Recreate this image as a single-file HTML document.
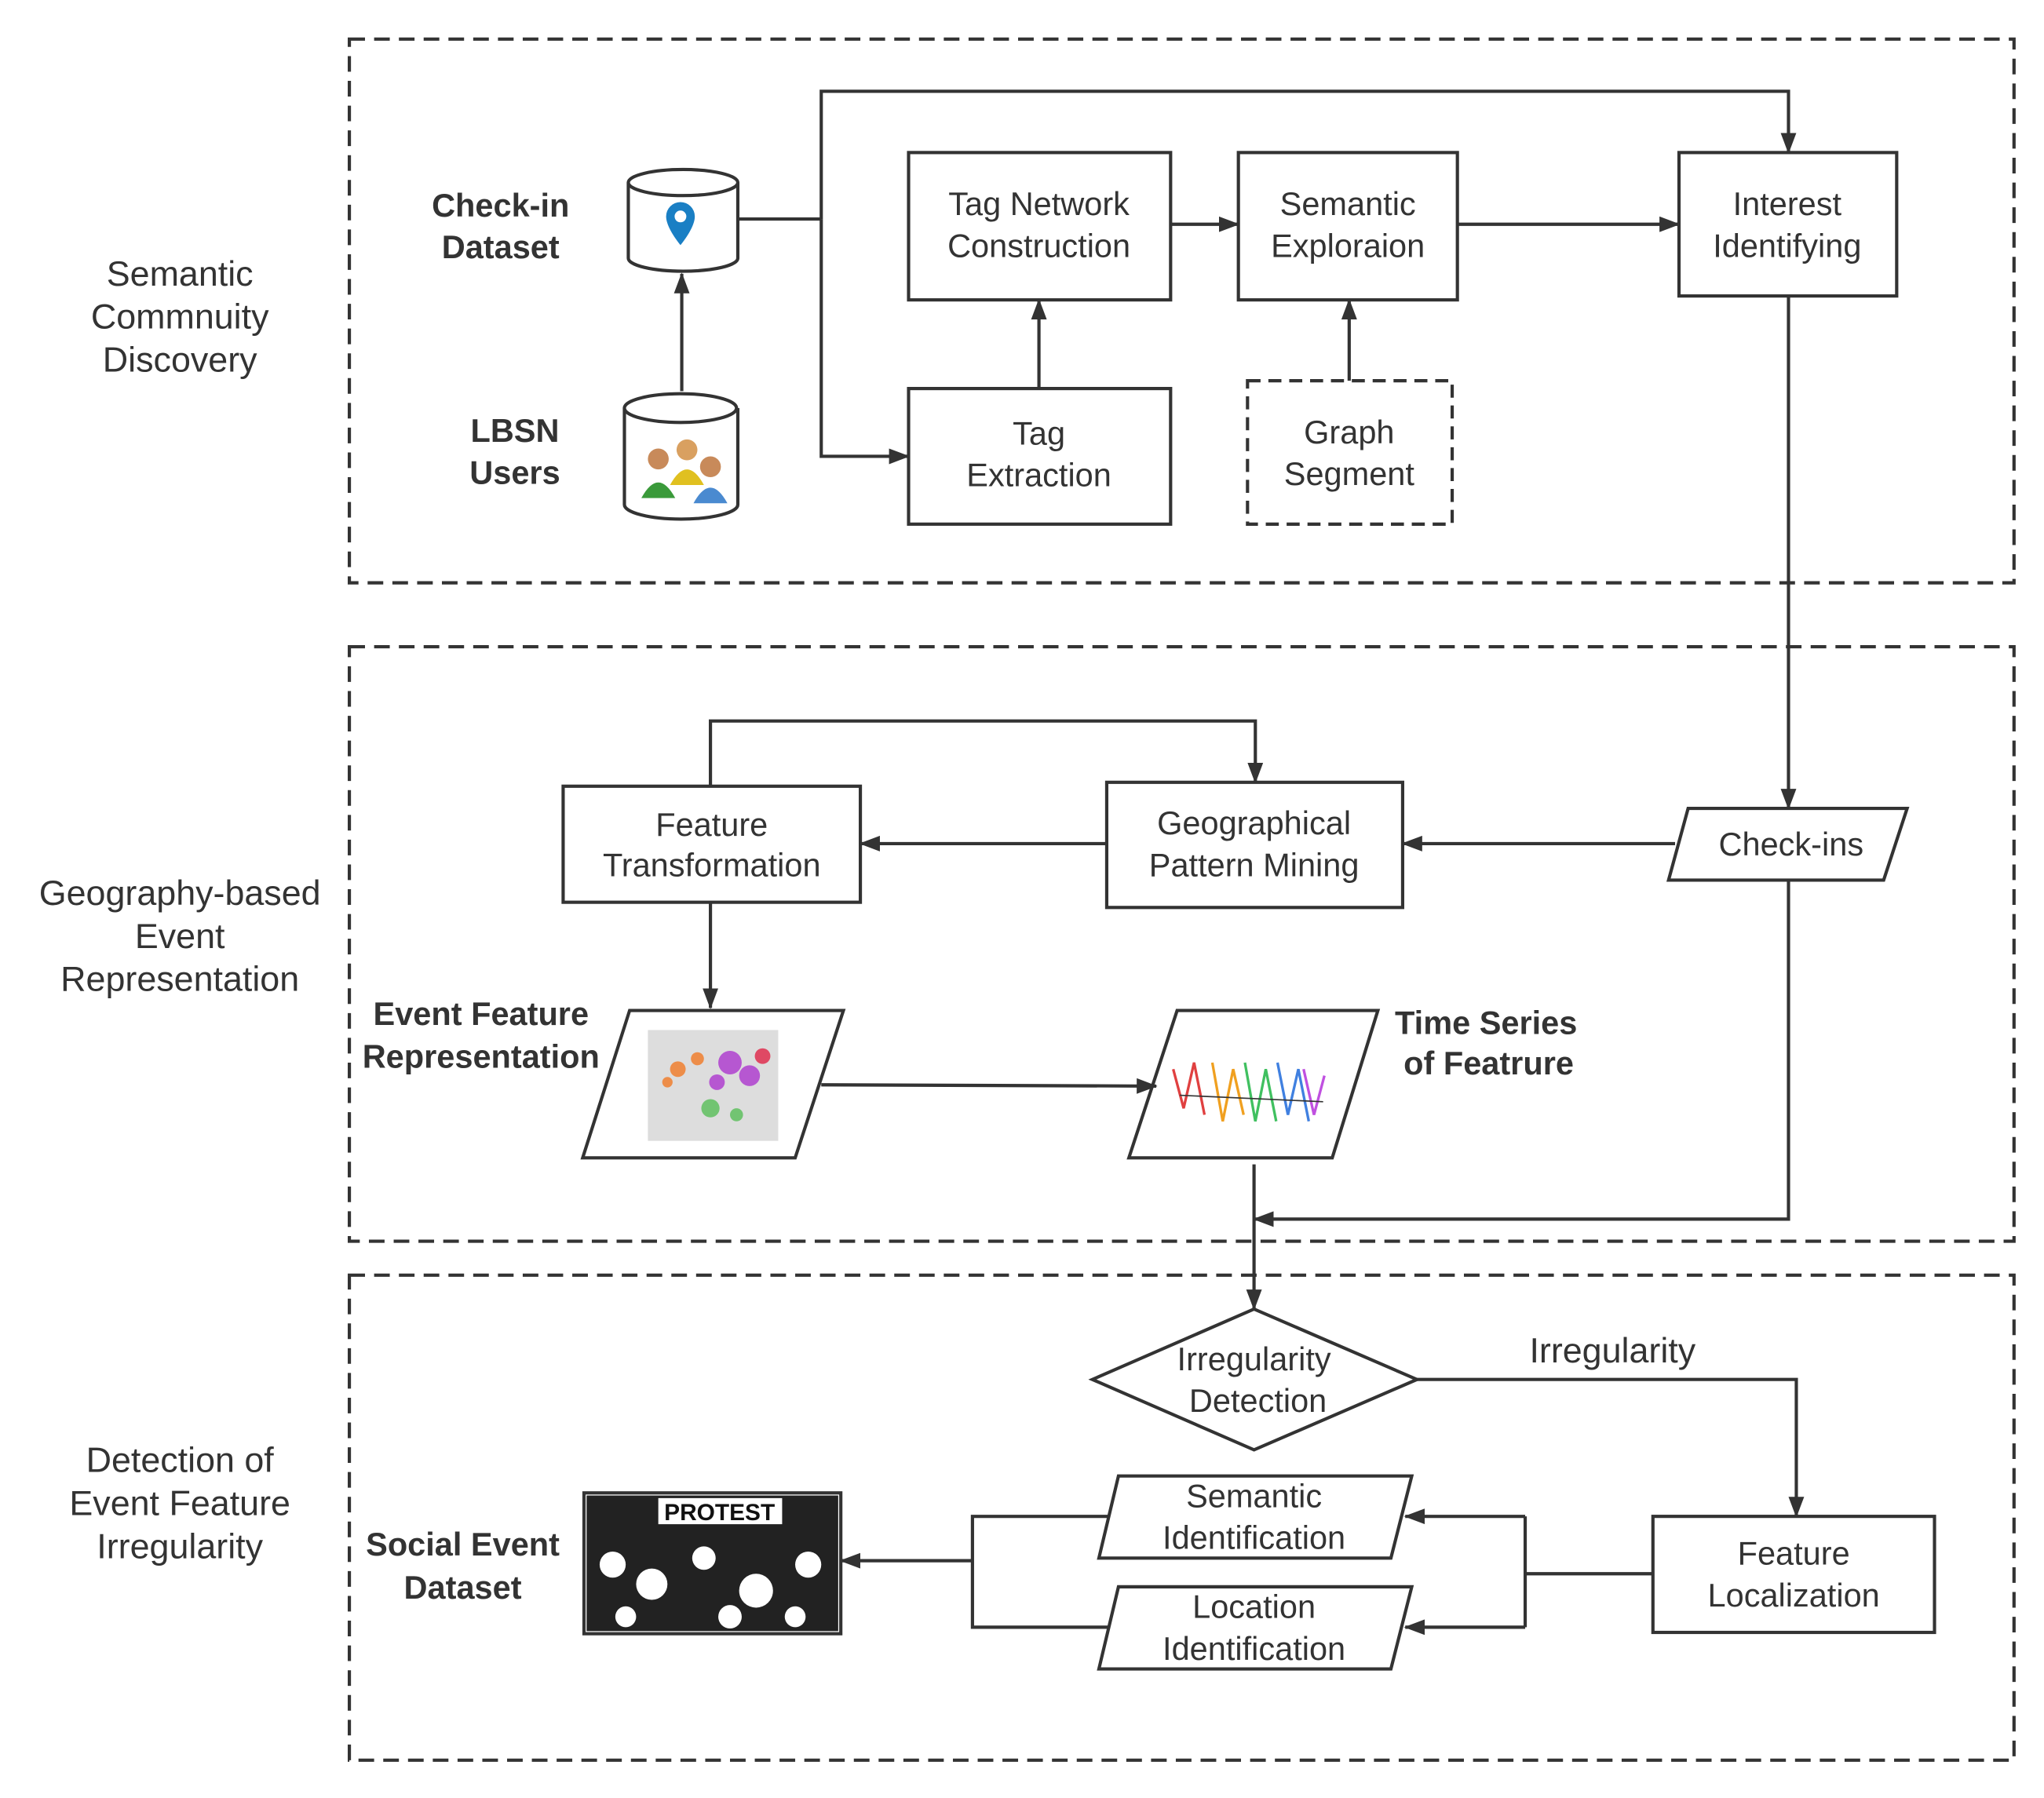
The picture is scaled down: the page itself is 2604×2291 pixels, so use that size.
<!DOCTYPE html>
<html><head><meta charset="utf-8"><style>html,body{margin:0;padding:0;background:#fff}svg{display:block}</style></head>
<body>
<svg width="2604" height="2291" viewBox="0 0 1568 1379" preserveAspectRatio="none" xmlns="http://www.w3.org/2000/svg" font-family="Liberation Sans, DejaVu Sans, sans-serif">
<defs>
<marker id="a" markerWidth="16" markerHeight="12" refX="15" refY="6" orient="auto" markerUnits="userSpaceOnUse"><path d="M0,0 L16,6 L0,12 z" fill="#333"/></marker>
</defs>
<g fill="none" stroke="#333" stroke-width="2.5" stroke-dasharray="12,7">
<rect x="268" y="30" width="1277" height="417"/>
<rect x="268" y="496" width="1277" height="456"/>
<rect x="268" y="978" width="1277" height="372"/>
</g>
<g font-size="27" fill="#333" text-anchor="middle">
<text x="138" y="219">Semantic</text><text x="138" y="252">Commnuity</text><text x="138" y="285">Discovery</text>
<text x="138" y="694">Geography-based</text><text x="138" y="727">Event</text><text x="138" y="760">Representation</text>
<text x="138" y="1129">Detection of</text><text x="138" y="1162">Event Feature</text><text x="138" y="1195">Irregularity</text>
</g>
<g font-size="25" font-weight="bold" fill="#333" text-anchor="middle">
<text x="384" y="166">Check-in</text><text x="384" y="198">Dataset</text>
<text x="395" y="339">LBSN</text><text x="395" y="371">Users</text>
<text x="369" y="786">Event Feature</text><text x="369" y="819">Representation</text>
<text x="1140" y="793">Time Series</text><text x="1142" y="824">of Featrure</text>
<text x="355" y="1193">Social Event</text><text x="355" y="1226">Dataset</text>
</g>
<g stroke="#333" stroke-width="2.5" fill="#fff">
<path d="M482,140 L482,198 A42,10 0 0 0 566,198 L566,140"/><ellipse cx="524" cy="140" rx="42" ry="10"/>
<path d="M479,313 L479,387 A43,11 0 0 0 566,387 L566,313"/><ellipse cx="522" cy="313" rx="43" ry="11"/>
</g>
<path d="M522,155 a11,11 0 0 1 11,11 c0,9 -11,22 -11,22 c0,0 -11,-13 -11,-22 a11,11 0 0 1 11,-11z" fill="#1a7fc4"/><circle cx="522" cy="166" r="4.5" fill="#fff"/>
<circle cx="505" cy="352" r="8" fill="#c88a5a"/><path d="M492,382 q13,-24 26,0z" fill="#3a9a3a"/>
<circle cx="527" cy="345" r="8" fill="#d9a060"/><path d="M514,372 q13,-24 26,0z" fill="#e0c020"/>
<circle cx="545" cy="358" r="8" fill="#c88a5a"/><path d="M532,386 q13,-24 26,0z" fill="#4a8ad0"/>
<g stroke="#333" stroke-width="2.5" fill="#fff">
<rect x="697" y="117" width="201" height="113"/>
<rect x="950" y="117" width="168" height="113"/>
<rect x="1288" y="117" width="167" height="110"/>
<rect x="697" y="298" width="201" height="104"/>
<rect x="957" y="292" width="157" height="110" stroke-dasharray="10,6"/>
<rect x="849" y="600" width="227" height="96"/>
<rect x="432" y="603" width="228" height="89"/>
<rect x="1268" y="1163" width="216" height="89"/>
<polygon points="1295,620 1463,620 1445,675 1280,675"/>
<polygon points="483,775 647,775 610,888 447,888"/>
<polygon points="903,775 1057,775 1022,888 866,888"/>
<polygon points="962,1004 1087,1058 962,1112 838,1058"/>
<polygon points="858,1132 1083,1132 1067,1195 843,1195"/>
<polygon points="858,1217 1083,1217 1067,1280 843,1280"/>
<rect x="448" y="1145" width="197" height="108"/>
</g>
<rect x="497" y="790" width="100" height="85" fill="#ddd"/>
<g opacity="0.85">
<circle cx="520" cy="820" r="6" fill="#f08030"/><circle cx="535" cy="812" r="5" fill="#f08030"/><circle cx="512" cy="830" r="4" fill="#f08030"/>
<circle cx="560" cy="815" r="9" fill="#b040d0"/><circle cx="575" cy="825" r="8" fill="#b040d0"/><circle cx="550" cy="830" r="6" fill="#b040d0"/>
<circle cx="585" cy="810" r="6" fill="#e03050"/><circle cx="545" cy="850" r="7" fill="#60c060"/><circle cx="565" cy="855" r="5" fill="#60c060"/>
</g>
<g stroke-width="2" fill="none">
<path d="M900,820 l8,30 l8,-35 l8,40" stroke="#e04040"/><path d="M930,815 l8,45 l8,-40 l8,35" stroke="#f0a020"/>
<path d="M955,815 l8,45 l8,-40 l8,40" stroke="#40c060"/><path d="M980,815 l8,40 l8,-35 l8,40" stroke="#4080e0"/>
<path d="M1000,820 l8,35 l8,-30" stroke="#c050e0"/><path d="M905,840 l110,5" stroke="#333" stroke-width="1"/>
</g>
<rect x="450" y="1147" width="193" height="104" fill="#222"/>
<g fill="#fff"><circle cx="470" cy="1200" r="10"/><circle cx="500" cy="1215" r="12"/><circle cx="540" cy="1195" r="9"/><circle cx="580" cy="1220" r="13"/><circle cx="620" cy="1200" r="10"/><circle cx="480" cy="1240" r="8"/><circle cx="560" cy="1240" r="9"/><circle cx="610" cy="1240" r="8"/></g>
<rect x="505" y="1149" width="95" height="20" fill="#fff"/>
<text x="552" y="1166" font-size="18" font-weight="bold" text-anchor="middle" fill="#111">PROTEST</text>
<g font-size="25" fill="#333" text-anchor="middle">
<text x="797" y="165">Tag Network</text><text x="797" y="197">Construction</text>
<text x="1034" y="165">Semantic</text><text x="1034" y="197">Exploraion</text>
<text x="1371" y="165">Interest</text><text x="1371" y="197">Identifying</text>
<text x="797" y="341">Tag</text><text x="797" y="373">Extraction</text>
<text x="1035" y="340">Graph</text><text x="1035" y="372">Segment</text>
<text x="962" y="640">Geographical</text><text x="962" y="672">Pattern Mining</text>
<text x="546" y="641">Feature</text><text x="546" y="672">Transformation</text>
<text x="1374" y="656">Check-ins</text>
<text x="962" y="1051">Irregularity</text><text x="965" y="1083">Detection</text>
<text x="962" y="1156">Semantic</text><text x="962" y="1188">Identification</text>
<text x="962" y="1241">Location</text><text x="962" y="1273">Identification</text>
<text x="1376" y="1200">Feature</text><text x="1376" y="1232">Localization</text>
<text x="1237" y="1045" font-size="27">Irregularity</text>
</g>
<g fill="none" stroke="#333" stroke-width="2.5">
<path d="M523,300 L523,210" marker-end="url(#a)"/>
<path d="M566,168 L630,168"/>
<path d="M630,168 L630,70 L1372,70 L1372,117" marker-end="url(#a)"/>
<path d="M630,168 L630,350 L697,350" marker-end="url(#a)"/>
<path d="M898,172 L950,172" marker-end="url(#a)"/>
<path d="M1118,172 L1288,172" marker-end="url(#a)"/>
<path d="M797,298 L797,230" marker-end="url(#a)"/>
<path d="M1035,292 L1035,230" marker-end="url(#a)"/>
<path d="M1372,227 L1372,620" marker-end="url(#a)"/>
<path d="M1285,647 L1076,647" marker-end="url(#a)"/>
<path d="M849,647 L660,647" marker-end="url(#a)"/>
<path d="M545,603 L545,553 L963,553 L963,600" marker-end="url(#a)"/>
<path d="M545,692 L545,773" marker-end="url(#a)"/>
<path d="M630,832 L887,833" marker-end="url(#a)"/>
<path d="M1372,675 L1372,935 L962,935" marker-end="url(#a)"/>
<path d="M962,893 L962,1004" marker-end="url(#a)"/>
<path d="M1087,1058 L1378,1058 L1378,1163" marker-end="url(#a)"/>
<path d="M1268,1207 L1170,1207"/>
<path d="M1170,1163 L1170,1248"/>
<path d="M1170,1163 L1078,1163" marker-end="url(#a)"/>
<path d="M1170,1248 L1078,1248" marker-end="url(#a)"/>
<path d="M850,1163 L746,1163 L746,1248 L850,1248"/>
<path d="M746,1197 L645,1197" marker-end="url(#a)"/>
</g>
</svg>
</body></html>
